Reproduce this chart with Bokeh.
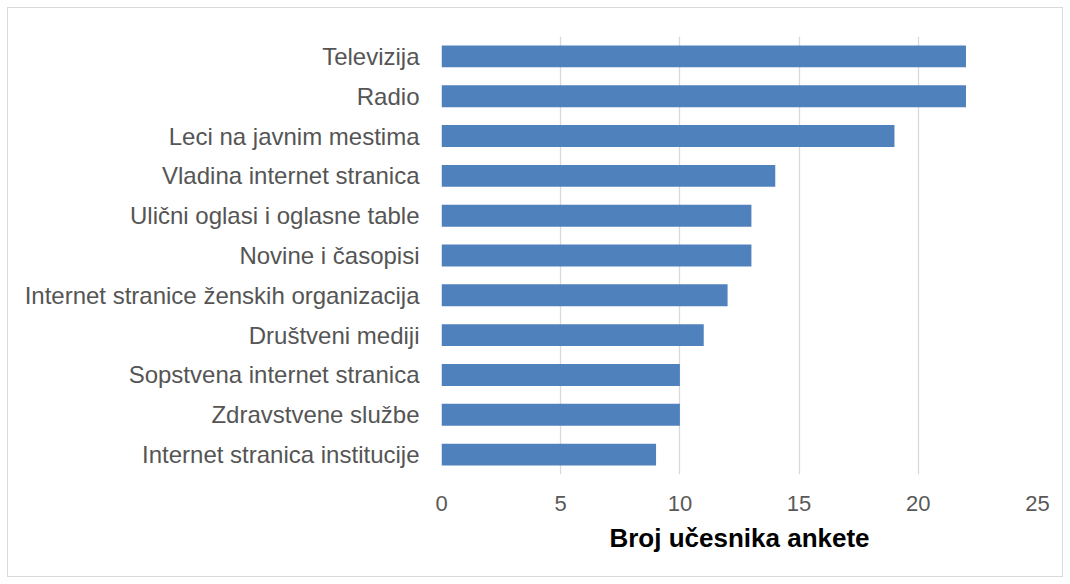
from bokeh.plotting import figure
from bokeh.embed import file_html
from bokeh.resources import INLINE
from bokeh.models import ColumnDataSource, FixedTicker

categories = [
    "Televizija",
    "Radio",
    "Leci na javnim mestima",
    "Vladina internet stranica",
    "Ulični oglasi i oglasne table",
    "Novine i časopisi",
    "Internet stranice ženskih organizacija",
    "Društveni mediji",
    "Sopstvena internet stranica",
    "Zdravstvene službe",
    "Internet stranica institucije",
]
values = [22, 22, 19, 14, 13, 13, 12, 11, 10, 10, 9]
x_ticks = [0, 5, 10, 15, 20, 25]
x_label = "Broj učesnika ankete"

FONT = "Liberation Sans"

source = ColumnDataSource(data=dict(cat=categories, val=values))

p = figure(
    y_range=list(reversed(categories)),
    x_range=(0, 25),
    frame_width=596, frame_height=438,
    min_border_left=433, min_border_right=25,
    min_border_top=28, min_border_bottom=102,
    output_backend="svg", toolbar_location=None,
)
p.margin = (8, 0, 0, 8)
p.hbar(y="cat", right="val", left=0, height=0.55, source=source,
       fill_color="#4f81bd", line_color=None)

p.outline_line_color = None
p.background_fill_color = "white"
p.border_fill_color = "white"
p.styles = {"outline": "1px solid #d9d9d9"}

p.ygrid.grid_line_color = None
p.xgrid.grid_line_color = "#d9d9d9"
p.xgrid.grid_line_width = 1.3
p.xaxis.ticker = FixedTicker(ticks=x_ticks)

for ax in (p.xaxis[0], p.yaxis[0]):
    ax.axis_line_color = None
    ax.major_tick_line_color = None
    ax.minor_tick_line_color = None
    ax.major_label_text_font = FONT

p.yaxis.major_label_text_font_size = "24px"
p.yaxis.major_label_text_color = "#555555"
p.yaxis.major_label_standoff = 16
p.xaxis.major_label_text_font_size = "22px"
p.xaxis.major_label_text_color = "#595959"
p.xaxis.major_label_standoff = 15
p.xaxis.axis_label = x_label
p.xaxis.axis_label_text_font = FONT
p.xaxis.axis_label_text_font_size = "26px"
p.xaxis.axis_label_text_font_style = "bold"
p.xaxis.axis_label_text_color = "black"
p.xaxis.axis_label_standoff = 9

open("out.html", "w").write(file_html(p, INLINE))
